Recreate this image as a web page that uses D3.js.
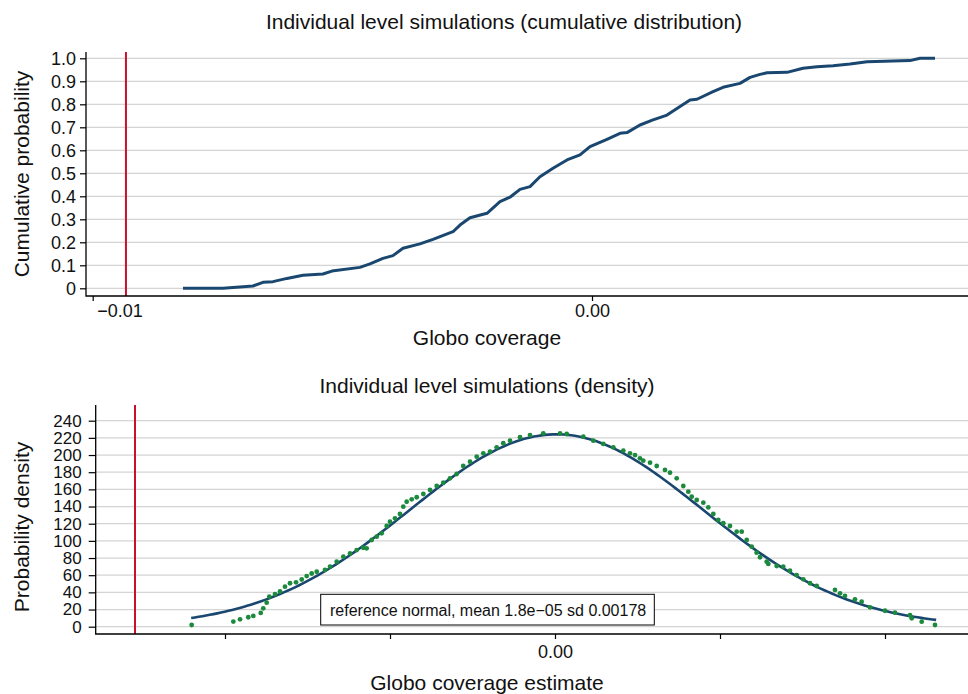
<!DOCTYPE html>
<html>
<head>
<meta charset="utf-8">
<script src="https://cdn.jsdelivr.net/npm/d3@7"></script>
<style>
  body { margin: 0; background: #fff; }
  text { font-family: "Liberation Sans", Arial, sans-serif; fill: #111; }
</style>
</head>
<body>
<div id="chart"></div>
<script>
// cumulative distribution (top panel)
var cdfX = [-0.008192, -0.007391, -0.006790, -0.006590, -0.006390, -0.006110, -0.005789, -0.005389,
    -0.005209, -0.004648, -0.004447, -0.004187, -0.003987, -0.003786, -0.003446, -0.003185,
    -0.002784, -0.002644, -0.002444, -0.002103, -0.001843, -0.001643, -0.001442, -0.001242,
    -0.001042, -0.000781, -0.000501, -0.000240, -0.000040, 0.000300, 0.000561, 0.000701,
    0.000961, 0.001222, 0.001502, 0.001763, 0.001963, 0.002103, 0.002424, 0.002624,
    0.002964, 0.003165, 0.003365, 0.003505, 0.003906, 0.004226, 0.004507, 0.004827,
    0.005168, 0.005508, 0.006369, 0.006570, 0.006870];
var cdfP = [0, 0, 0.010, 0.026, 0.029, 0.043, 0.057, 0.062,
    0.075, 0.091, 0.106, 0.130, 0.142, 0.174, 0.193, 0.213,
    0.246, 0.275, 0.307, 0.326, 0.377, 0.396, 0.430, 0.442,
    0.485, 0.522, 0.558, 0.580, 0.616, 0.648, 0.674, 0.677,
    0.710, 0.732, 0.753, 0.790, 0.819, 0.822, 0.855, 0.874,
    0.891, 0.917, 0.930, 0.937, 0.939, 0.957, 0.963, 0.968,
    0.975, 0.985, 0.990, 1.000, 1.000];

// kernel density points (bottom panel)
var densX = [-0.004404, -0.003899, -0.003818, -0.003718, -0.003657, -0.003567, -0.003536, -0.003495,
    -0.003463, -0.003394, -0.003333, -0.003273, -0.003212, -0.003139, -0.003070, -0.003010,
    -0.002949, -0.002888,
    -0.002788, -0.002727, -0.002646, -0.002566, -0.002485, -0.002404, -0.002324, -0.002283,
    -0.002222, -0.002161, -0.002101, -0.002040, -0.002000, -0.001939, -0.001879, -0.001839,
    -0.001798, -0.001737, -0.001676, -0.001596, -0.001515, -0.001434, -0.001354, -0.001273,
    -0.001192, -0.001112, -0.001030, -0.000949, -0.000869, -0.000788, -0.000707, -0.000627,
    -0.000545, -0.000424, -0.000303, -0.000142, 0.000061,
    0.000142, 0.000343, 0.000464, 0.000585, 0.000707, 0.000828, 0.000909, 0.000970,
    0.001030, 0.001070, 0.001152, 0.001233, 0.001333, 0.001394, 0.001475, 0.001555,
    0.001616, 0.001657, 0.001718, 0.001798, 0.001858, 0.001919, 0.001979, 0.002040,
    0.002121, 0.002202, 0.002263, 0.002324, 0.002384, 0.002444, 0.002485, 0.002566,
    0.002586, 0.002687, 0.002767, 0.002848, 0.002929, 0.003010, 0.003091, 0.003172,
    0.003394, 0.003455, 0.003515, 0.003636, 0.003717, 0.003818, 0.004000, 0.004121,
    0.004303, 0.004324, 0.004445, 0.004606];
var densY = [2, 6, 8.6, 11, 12.5, 16, 21.4, 28,
    35, 38, 41, 46.6, 50.6, 51.7, 55, 59,
    62, 64,
    66.1, 69.9, 75.7, 81.6, 85.4, 89.3, 92.0, 91.3,
    101.0, 104.9, 108.8, 117.3, 122.3, 126.3, 131.3, 139.8,
    145.6, 148.4, 150.8, 154.6, 159.3, 163.9, 167.8, 172.9,
    177.9, 187.2, 192.2, 198.1, 202.0, 203.9, 209.0, 213.7,
    216.7, 220.7, 223.3, 225.3, 225.3,
    224.5, 221.4, 216.7, 212.9, 209.0, 205.1, 202.0, 200.0,
    196.2, 193.4, 191.1, 187.2, 182.6, 179.4, 172.9, 163.9,
    157.3, 151.5, 147.6, 144.5, 139.1, 131.3, 124.3, 120.5,
    117.3, 110.7, 110.7, 101.0, 93.2, 86.2, 80.9, 75.7,
    73.1, 70.7, 69.9, 65.2, 60.2, 55.2, 50.6, 47.4,
    42.8, 38.9, 35.8, 31.9, 29.1, 22.6, 18.6, 16.3,
    13.6, 9.8, 5.8, 2.0];

// reference normal
var normMean = 0.000018;
var normSd = 0.00178;
var normRange = [-0.00441, 0.00462];

var redLineTop = -0.009334;
var redLineBottom = -0.005091;

var yTicksTop = [0, 0.1, 0.2, 0.3, 0.4, 0.5, 0.6, 0.7, 0.8, 0.9, 1.0];
var yTickLabelsTop = ["0", "0.1", "0.2", "0.3", "0.4", "0.5", "0.6", "0.7", "0.8", "0.9", "1.0"];
var xTicksTop = [-0.01, 0];
var xTickLabelsTop = ["\u22120.01", "0.00"];
var yTicksBottom = [0, 20, 40, 60, 80, 100, 120, 140, 160, 180, 200, 220, 240];
var xTicksBottom = [-0.004, -0.002, 0, 0.002, 0.004];
var xTickLabelsBottom = ["", "", "0.00", "", ""];

var NAVY = "#1a476f";
var GREEN = "#1b8a3c";
var RED = "#c8102e";
var GRID = "#d4d4d4";

var W = 968, H = 694;
var svg = d3.select("#chart").append("svg")
    .attr("width", W)
    .attr("height", H);

svg.append("rect").attr("width", W).attr("height", H).attr("fill", "#fff");

// ---------- top panel ----------
var boxTop = { left: 86, right: 968, top: 52, bottom: 296 };

var xTop = d3.scaleLinear().domain([-0.01, 0]).range([92.7, 592]);
var yTop = d3.scaleLinear().domain([0, 1]).range([288.3, 58.3]);

var gTop = svg.append("g");

gTop.selectAll(".grid").data(yTicksTop).enter().append("line")
    .attr("x1", boxTop.left).attr("x2", boxTop.right)
    .attr("y1", function(d) { return yTop(d); })
    .attr("y2", function(d) { return yTop(d); })
    .attr("stroke", GRID).attr("stroke-width", 1.3);

var axTopY = gTop.append("g")
    .attr("transform", "translate(" + boxTop.left + ",0)")
    .call(d3.axisLeft(yTop).tickValues(yTicksTop)
        .tickFormat(function(d, i) { return yTickLabelsTop[i]; })
        .tickSize(6).tickPadding(4));
axTopY.select(".domain").remove();

var axTopX = gTop.append("g")
    .attr("transform", "translate(0," + boxTop.bottom + ")")
    .call(d3.axisBottom(xTop).tickValues(xTicksTop)
        .tickFormat(function(d, i) { return xTickLabelsTop[i]; })
        .tickSize(5).tickPadding(3));
axTopX.select(".domain").remove();
// the first label sits to the right of its tick in the original
axTopX.select(".tick text").attr("text-anchor", "start").attr("x", 4);

gTop.append("line")
    .attr("x1", xTop(redLineTop)).attr("x2", xTop(redLineTop))
    .attr("y1", boxTop.top).attr("y2", boxTop.bottom)
    .attr("stroke", RED).attr("stroke-width", 2);

var cdfLine = d3.line()
    .x(function(d) { return xTop(d[0]); })
    .y(function(d) { return yTop(d[1]); });

gTop.append("path")
    .datum(d3.zip(cdfX, cdfP))
    .attr("d", cdfLine)
    .attr("fill", "none")
    .attr("stroke", NAVY)
    .attr("stroke-width", 3)
    .attr("stroke-linejoin", "round");

gTop.append("path")
    .attr("d", "M" + boxTop.left + "," + boxTop.top + "V" + boxTop.bottom + "H" + boxTop.right)
    .attr("fill", "none").attr("stroke", "#000").attr("stroke-width", 1.3);

gTop.append("text")
    .attr("x", 504).attr("y", 29)
    .attr("text-anchor", "middle")
    .style("font-size", "21px")
    .text("Individual level simulations (cumulative distribution)");

gTop.append("text")
    .attr("transform", "translate(29,174) rotate(-90)")
    .attr("text-anchor", "middle")
    .style("font-size", "21px")
    .text("Cumulative probability");

gTop.append("text")
    .attr("x", 487).attr("y", 345)
    .attr("text-anchor", "middle")
    .style("font-size", "21px")
    .text("Globo coverage");

// ---------- bottom panel ----------
var boxBot = { left: 95.7, right: 968, top: 405, bottom: 634 };

var xBot = d3.scaleLinear().domain([0, 0.002]).range([555, 720]);
var yBot = d3.scaleLinear().domain([0, 240]).range([626.7, 420.7]);

var gBot = svg.append("g");

gBot.selectAll(".grid").data(yTicksBottom).enter().append("line")
    .attr("x1", boxBot.left).attr("x2", boxBot.right)
    .attr("y1", function(d) { return yBot(d); })
    .attr("y2", function(d) { return yBot(d); })
    .attr("stroke", GRID).attr("stroke-width", 1.3);

var axBotY = gBot.append("g")
    .attr("class", "ybot")
    .attr("transform", "translate(" + boxBot.left + ",0)")
    .call(d3.axisLeft(yBot).tickValues(yTicksBottom)
        .tickFormat(d3.format("d"))
        .tickSize(7).tickPadding(7));
axBotY.select(".domain").remove();

var axBotX = gBot.append("g")
    .attr("transform", "translate(0," + boxBot.bottom + ")")
    .call(d3.axisBottom(xBot).tickValues(xTicksBottom)
        .tickFormat(function(d, i) { return xTickLabelsBottom[i]; })
        .tickSize(5).tickPadding(6));
axBotX.select(".domain").remove();

gBot.append("line")
    .attr("x1", xBot(redLineBottom)).attr("x2", xBot(redLineBottom))
    .attr("y1", boxBot.top).attr("y2", boxBot.bottom)
    .attr("stroke", RED).attr("stroke-width", 2);

// reference normal curve from its stated mean and sd
var normPts = d3.range(0, 201).map(function(i) {
    var x = normRange[0] + (normRange[1] - normRange[0]) * i / 200;
    var z = (x - normMean) / normSd;
    return [x, Math.exp(-z * z / 2) / (normSd * Math.sqrt(2 * Math.PI))];
});

gBot.append("path")
    .datum(normPts)
    .attr("d", d3.line()
        .x(function(d) { return xBot(d[0]); })
        .y(function(d) { return yBot(d[1]); }))
    .attr("fill", "none")
    .attr("stroke", NAVY)
    .attr("stroke-width", 2.6);

gBot.selectAll(".dot").data(d3.zip(densX, densY)).enter().append("circle")
    .attr("cx", function(d) { return xBot(d[0]); })
    .attr("cy", function(d) { return yBot(d[1]); })
    .attr("r", 2.4)
    .attr("fill", GREEN);

gBot.append("path")
    .attr("d", "M" + boxBot.left + "," + boxBot.top + "V" + boxBot.bottom + "H" + boxBot.right)
    .attr("fill", "none").attr("stroke", "#000").attr("stroke-width", 1.3);

// legend
var leg = gBot.append("g");
leg.append("rect")
    .attr("x", 320.7).attr("y", 594.3)
    .attr("width", 333.6).attr("height", 30.7)
    .attr("fill", "#fff").attr("stroke", "#000").attr("stroke-width", 1);
leg.append("text")
    .attr("x", 330).attr("y", 615.5)
    .style("font-size", "16px")
    .text("reference normal, mean 1.8e\u221205 sd " + normSd);

gBot.append("text")
    .attr("x", 487).attr("y", 393)
    .attr("text-anchor", "middle")
    .style("font-size", "21px")
    .text("Individual level simulations (density)");

gBot.append("text")
    .attr("transform", "translate(29,527) rotate(-90)")
    .attr("text-anchor", "middle")
    .style("font-size", "21px")
    .text("Probability density");

gBot.append("text")
    .attr("x", 487).attr("y", 690)
    .attr("text-anchor", "middle")
    .style("font-size", "21px")
    .text("Globo coverage estimate");

svg.selectAll(".tick text").style("font-size", "18px").attr("fill", "#111");
svg.selectAll(".ybot .tick text").style("font-size", "17px");
svg.selectAll(".tick line").attr("stroke", "#000").attr("stroke-width", 1.2);
</script>
</body>
</html>
